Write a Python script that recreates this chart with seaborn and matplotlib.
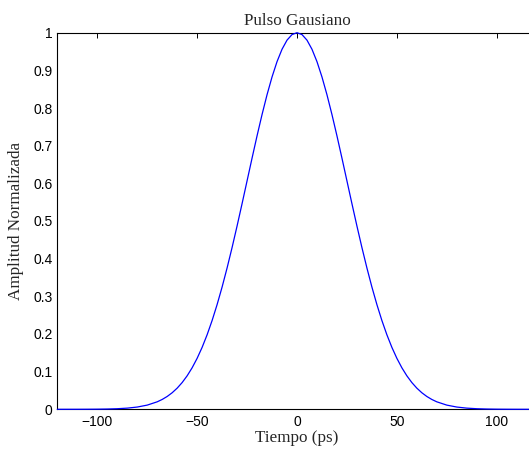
import matplotlib
matplotlib.use("Agg")
import matplotlib.pyplot as plt
import seaborn as sns
import pandas as pd

# Valores (pulso gaussiano normalizado)
tiempo_ps = [-120, -115, -110, -105, -100, -95, -90, -85, -80, -75,
             -70, -67.5, -65, -62.5, -60, -57.5, -55, -52.5, -50, -47.5,
             -45, -42.5, -40, -37.5, -35, -32.5, -30, -27.5, -25, -22.5,
             -20, -17.5, -15, -12.5, -10, -7.5, -5, -2.5, 0, 2.5,
             5, 7.5, 10, 12.5, 15, 17.5, 20, 22.5, 25, 27.5,
             30, 32.5, 35, 37.5, 40, 42.5, 45, 47.5, 50, 52.5,
             55, 57.5, 60, 62.5, 65, 67.5, 70, 75, 80, 85,
             90, 95, 100, 105, 110, 115, 120]
amplitud = [0.00001, 0.00003, 0.00006, 0.00015, 0.00034, 0.00073, 0.00153, 0.00309, 0.00598, 0.01111,
            0.01984, 0.02612, 0.03405, 0.04394, 0.05613, 0.07100, 0.08892, 0.11025, 0.13534, 0.16447,
            0.19790, 0.23575, 0.27804, 0.32465, 0.37531, 0.42956, 0.48675, 0.54607, 0.60653, 0.66698,
            0.72615, 0.78270, 0.83527, 0.88250, 0.92312, 0.95600, 0.98020, 0.99501, 1.00000, 0.99501,
            0.98020, 0.95600, 0.92312, 0.88250, 0.83527, 0.78270, 0.72615, 0.66698, 0.60653, 0.54607,
            0.48675, 0.42956, 0.37531, 0.32465, 0.27804, 0.23575, 0.19790, 0.16447, 0.13534, 0.11025,
            0.08892, 0.07100, 0.05613, 0.04394, 0.03405, 0.02612, 0.01984, 0.01111, 0.00598, 0.00309,
            0.00153, 0.00073, 0.00034, 0.00015, 0.00006, 0.00003, 0.00001]

xticks = [-100, -50, 0, 50, 100]
yticks = [0, 0.1, 0.2, 0.3, 0.4, 0.5, 0.6, 0.7, 0.8, 0.9, 1]
ytick_labels = ["0", "0.1", "0.2", "0.3", "0.4", "0.5", "0.6", "0.7", "0.8", "0.9", "1"]

df = pd.DataFrame({"t": tiempo_ps, "a": amplitud})

sns.set_style("white")
plt.rcParams["font.family"] = ["Liberation Sans", "DejaVu Sans"]

fig = plt.figure(figsize=(5.29, 4.5), dpi=100)
ax = fig.add_axes([57.3 / 529, 40.7 / 450, 479.4 / 529, 376.6 / 450])

sns.lineplot(data=df, x="t", y="a", ax=ax, color="#0000ff", linewidth=0.9,
             zorder=3, clip_on=False)

ax.set_xlim(-120, 120)
ax.set_ylim(0, 1)
ax.set_xticks(xticks)
ax.set_yticks(yticks)
ax.set_yticklabels(ytick_labels)

for s in ax.spines.values():
    s.set_color("black")
    s.set_linewidth(0.8)

ax.tick_params(direction="in", length=3.6, width=0.7, colors="black",
               labelsize=10, top=True, right=True)
ax.tick_params(axis="y", pad=3.3)
ax.tick_params(axis="x", pad=4.3)

serif = ["Liberation Serif", "DejaVu Serif"]
ax.set_title("Pulso Gausiano", family=serif, fontsize=12.3, pad=5.5)
ax.set_xlabel("Tiempo (ps)", family=serif, fontsize=12.3, labelpad=0.5)
ax.set_ylabel("Amplitud Normalizada", family=serif, fontsize=12.3, labelpad=7)

fig.savefig("out.png", dpi=100)
